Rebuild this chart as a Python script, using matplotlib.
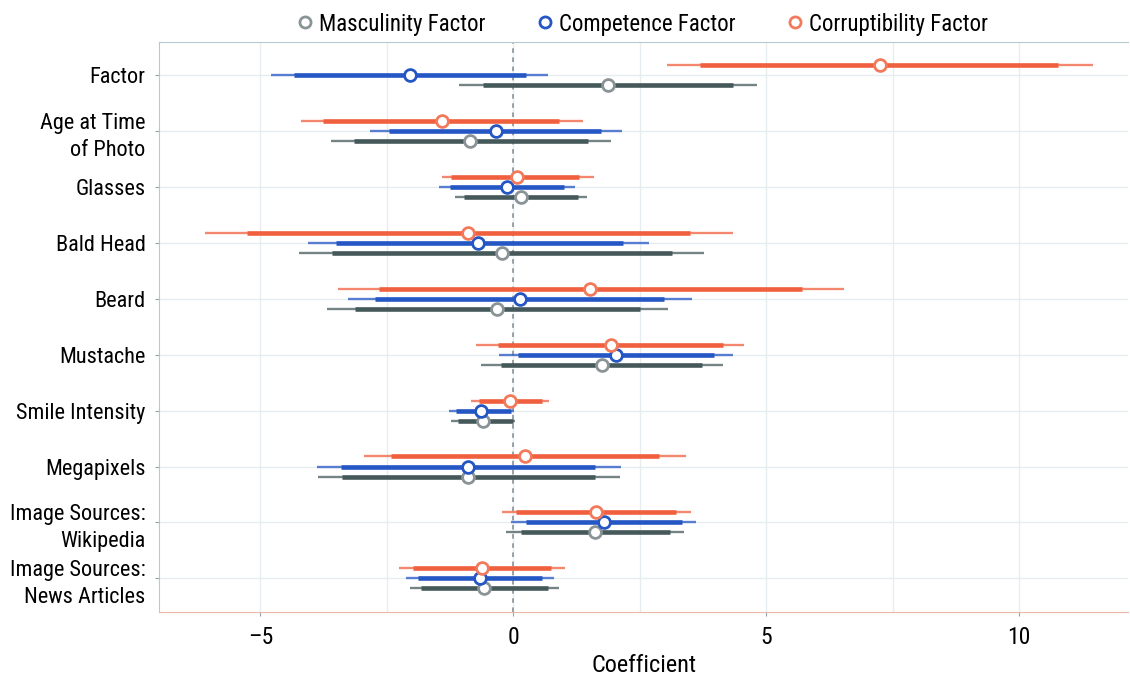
import matplotlib
matplotlib.use("Agg")
import matplotlib.pyplot as plt
from matplotlib.lines import Line2D

plt.rcParams["font.family"] = ["Roboto Condensed", "Liberation Sans Narrow",
                               "Liberation Sans", "DejaVu Sans"]

labels = ["Factor", "Age at Time\nof Photo", "Glasses", "Bald Head", "Beard",
          "Mustache", "Smile Intensity", "Megapixels",
          "Image Sources:\nWikipedia", "Image Sources:\nNews Articles"]

# point estimates
masc_est = [1.88, -0.86, 0.15, -0.22, -0.32, 1.75, -0.60, -0.89, 1.62, -0.57]
comp_est = [-2.05, -0.34, -0.13, -0.70, 0.14, 2.03, -0.64, -0.90, 1.79, -0.66]
corr_est = [7.25, -1.42, 0.08, -0.89, 1.52, 1.93, -0.06, 0.24, 1.64, -0.62]

# inner (thick) intervals
masc_in_lo = [-0.60, -3.16, -0.97, -3.59, -3.14, -0.24, -1.09, -3.38, 0.15, -1.82]
masc_in_hi = [4.34, 1.47, 1.27, 3.14, 2.50, 3.74, 0.00, 1.62, 3.10, 0.68]
comp_in_lo = [-4.34, -2.45, -1.26, -3.51, -2.74, 0.09, -1.13, -3.41, 0.26, -1.88]
comp_in_hi = [0.25, 1.73, 1.01, 2.16, 2.98, 3.97, -0.04, 1.62, 3.33, 0.56]
corr_in_lo = [3.70, -3.76, -1.23, -5.26, -2.65, -0.30, -0.68, -2.42, 0.06, -1.99]
corr_in_hi = [10.77, 0.91, 1.30, 3.50, 5.70, 4.14, 0.56, 2.89, 3.22, 0.75]

# outer (thin) intervals
masc_out_lo = [-1.07, -3.60, -1.16, -4.23, -3.68, -0.63, -1.23, -3.86, -0.14, -2.05]
masc_out_hi = [4.82, 1.93, 1.45, 3.78, 3.05, 4.15, 0.04, 2.11, 3.38, 0.90]
comp_out_lo = [-4.80, -2.84, -1.46, -4.06, -3.27, -0.29, -1.28, -3.89, -0.05, -2.12]
comp_out_hi = [0.69, 2.14, 1.22, 2.69, 3.53, 4.35, 0.02, 2.12, 3.62, 0.81]
corr_out_lo = [3.03, -4.20, -1.42, -6.09, -3.47, -0.74, -0.83, -2.95, -0.22, -2.26]
corr_out_hi = [11.47, 1.37, 1.59, 4.35, 6.54, 4.57, 0.70, 3.42, 3.51, 1.03]

series = [
    ("Masculinity Factor", masc_est, masc_in_lo, masc_in_hi, masc_out_lo, masc_out_hi,
     "#45595a", "#8a9496", 0.18),
    ("Competence Factor", comp_est, comp_in_lo, comp_in_hi, comp_out_lo, comp_out_hi,
     "#2456c4", "#2456c4", 0.0),
    ("Corruptibility Factor", corr_est, corr_in_lo, corr_in_hi, corr_out_lo, corr_out_hi,
     "#f0603e", "#f27a5c", -0.18),
]

fig = plt.figure(figsize=(11.3, 6.76), dpi=100)
ax = fig.add_axes([0.141, 0.095, 0.857, 0.843])

ypos = list(range(len(labels)))
ax.axvline(0, color="#7f8a8c", lw=1.1, ls=(0, (3, 3)), zorder=1)

for name, est, ilo, ihi, olo, ohi, col, mcol, off in series:
    ys = [y + off for y in ypos]
    ax.hlines(ys, olo, ohi, color=col, lw=1.7, alpha=0.75, zorder=2)
    ax.hlines(ys, ilo, ihi, color=col, lw=3.3, zorder=3)
    ax.plot(est, ys, "o", ms=8.5, mfc="white", mec=mcol, mew=2, zorder=4)

ax.set_xlim(-7, 12.15)
ax.set_ylim(len(labels) - 0.4, -0.6)
ax.set_yticks(ypos)
ax.set_yticklabels(labels, fontsize=16, linespacing=1.4)
ax.set_xticks([-5, 0, 5, 10])
ax.set_xticklabels(["\u20135", "0", "5", "10"], fontsize=17)
ax.set_xlabel("Coefficient", fontsize=17.5, labelpad=4)
ax.set_xticks([-2.5, 2.5, 7.5], minor=True)
ax.grid(True, which="both", color="#e6edf1", lw=1.0, zorder=0)
ax.set_axisbelow(True)
ax.tick_params(axis="y", length=3, color="#8fa3ad", pad=7)
ax.tick_params(axis="x", length=3, color="#8fa3ad", pad=7)
ax.tick_params(which="minor", length=0)
for s in ["left", "top", "right"]:
    ax.spines[s].set_color("#b7c9d0")
ax.spines["bottom"].set_color("#e9b8a8")
ax.spines["right"].set_visible(False)

handles = [Line2D([], [], ls="none", marker="o", ms=8, mfc="white", mec=s[7], mew=2)
           for s in series]
fig.legend(handles, [s[0] for s in series], loc="upper center", ncol=3,
           bbox_to_anchor=(0.566, 1.012), frameon=False, fontsize=16.5,
           handletextpad=0.0, columnspacing=2.0, handlelength=1.2)

fig.savefig("out.png", dpi=100)
